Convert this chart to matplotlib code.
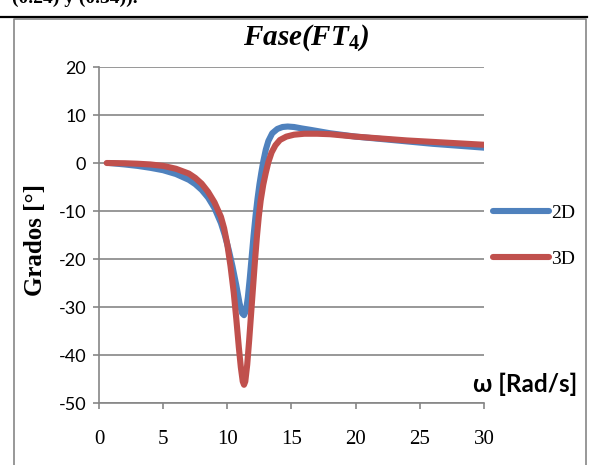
import matplotlib
matplotlib.use("Agg")
import matplotlib.pyplot as plt
from matplotlib.lines import Line2D

plt.rcParams["axes.unicode_minus"] = False
plt.rcParams["mathtext.fontset"] = "custom"
plt.rcParams["mathtext.rm"] = "Liberation Serif:bold"
plt.rcParams["mathtext.it"] = "Liberation Serif:italic:bold"

# omega [rad/s] and phase [deg]
w_2d = [0.8, 2, 3, 4, 5, 6, 7, 7.5, 8, 8.5, 9, 9.5, 9.8, 10.1, 10.4, 10.7, 10.95,
        11.15, 11.3, 11.45, 11.6, 11.75, 11.9, 12.05, 12.2, 12.35, 12.5, 12.65,
        12.8, 13.0, 13.2, 13.5, 13.9, 14.3, 14.7, 15.2, 15.8, 16.5, 18, 20, 22,
        24, 26, 28, 30]
fase_2d = [0, -0.3, -0.6, -1, -1.5, -2.3, -3.5, -4.4, -5.6, -7.2, -9.4, -12.5,
           -15, -18, -21.5, -25.5, -29.2, -31.3, -31.7, -30.8, -28, -24, -19.5,
           -15, -11, -7.5, -4.5, -2, 0.3, 2.8, 4.6, 6.2, 7.1, 7.5, 7.6, 7.5, 7.2,
           6.9, 6.2, 5.5, 5, 4.5, 4, 3.6, 3.2]

w_3d = [0.6, 2, 3, 4, 5, 6, 7, 7.5, 8, 8.5, 9, 9.5, 9.75, 10, 10.25, 10.5, 10.7,
        10.9, 11.05, 11.2, 11.3, 11.4, 11.55, 11.7, 11.85, 12.0, 12.15, 12.3,
        12.45, 12.6, 12.8, 13.0, 13.2, 13.45, 13.75, 14.1, 14.6, 15.2, 16, 17,
        18, 20, 22, 24, 26, 28, 30]
fase_3d = [0, -0.05, -0.15, -0.3, -0.6, -1.2, -2.2, -3.1, -4.3, -6, -8.2, -11.2,
           -13.6, -17, -21.5, -27, -32.5, -38.5, -42.5, -45.5, -46.2, -45.5, -42,
           -37, -31.5, -26, -20.5, -15.5, -11.2, -7.8, -4.5, -2, 0.2, 2.2, 3.7,
           4.8, 5.5, 5.9, 6.1, 6.1, 6, 5.5, 5.1, 4.7, 4.4, 4.1, 3.8]

series = [("2D", w_2d, fase_2d, "#4F81BD"), ("3D", w_3d, fase_3d, "#C0504D")]
x_ticks = [0, 5, 10, 15, 20, 25, 30]
y_ticks = [20, 10, 0, -10, -20, -30, -40, -50]

gray = "#868686"
fig = plt.figure(figsize=(5.9, 4.65), dpi=100)

# page bits around the chart
fig.text(0.02, 1.003, "(0.24) y (0.34)).", family="Liberation Serif",
         fontweight="bold", fontsize=14, va="center", ha="left")
fig.add_artist(Line2D([0, 0.995], [0.9634, 0.9634], color="black", lw=1.6))
fig.add_artist(Line2D([0.0237, 0.0237, 0.9932, 0.9932], [0, 0.959, 0.959, 0],
                      color=gray, lw=1.2))

ax = fig.add_axes([0.1678, 0.1333, 0.6525, 0.7226])
for name, xs, ys, c in series:
    ax.plot(xs, ys, color=c, lw=4.4, solid_capstyle="round",
            solid_joinstyle="round", label=name)

ax.set_xlim(0, 30)
ax.set_ylim(-50, 20)
ax.set_xticks(x_ticks)
ax.set_yticks(y_ticks)
ax.grid(axis="y", color=gray, lw=1.2)
ax.set_axisbelow(True)
for s in ["top", "right"]:
    ax.spines[s].set_visible(False)
for s in ["left", "bottom"]:
    ax.spines[s].set_color(gray)
    ax.spines[s].set_linewidth(1.2)
ax.tick_params(axis="both", direction="out", length=4.3, width=1.2, color=gray)
ax.tick_params(axis="y", pad=5)
ax.tick_params(axis="x", pad=15)
for lab in ax.get_yticklabels():
    lab.set_family("Lato")
    lab.set_fontsize(13)
for lab in ax.get_xticklabels():
    lab.set_family("Liberation Serif")
    lab.set_fontsize(15)

fig.text(0.519, 0.92, "Fase(FT$_4$)", family="Liberation Serif",
         fontweight="bold", style="italic", ha="center", va="center",
         fontsize=21)
fig.text(0.06, 0.484, "Grados [°]", rotation=90, family="Liberation Serif",
         fontweight="bold", fontsize=18, ha="center", va="center")
fig.text(0.979, 0.174, "ω [Rad/s]", family="Lato", fontweight="bold",
         fontsize=17.5, ha="right", va="center")

leg = ax.legend(loc="center left", bbox_to_anchor=(0.806, 0.492),
                bbox_transform=fig.transFigure, frameon=False,
                prop={"family": "Liberation Serif", "size": 14},
                handlelength=2.9, handletextpad=0.1, labelspacing=1.45)

fig.savefig("out.png", dpi=100)
